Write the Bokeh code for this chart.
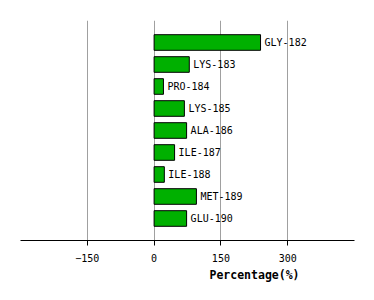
from bokeh.plotting import figure
from bokeh.models import Range1d, FixedTicker, ColumnDataSource, Title
from bokeh.core.properties import value
from bokeh.embed import file_html
from bokeh.resources import INLINE

residues = ["GLY-182", "LYS-183", "PRO-184", "LYS-185", "ALA-186",
            "ILE-187", "ILE-188", "MET-189", "GLU-190"]
percentages = [239, 79, 21, 68, 73, 46, 23, 95, 73]
ticks = [-150, 0, 150, 300]

pos = list(range(1, len(residues) + 1))
src = ColumnDataSource(dict(y=pos, right=percentages, label=residues))

p = figure(width=374, height=300, output_backend="svg", toolbar_location=None,
           x_range=Range1d(-300, 450), y_range=Range1d(len(residues) + 1, 0),
           y_axis_location=None, min_border_left=20, min_border_right=20,
           min_border_top=20, min_border_bottom=60)
p.outline_line_color = None
p.background_fill_color = "white"
p.border_fill_color = "white"

p.ygrid.visible = False
p.xgrid.ticker = FixedTicker(ticks=ticks)
p.xgrid.grid_line_color = "#a0a0a0"
p.xgrid.grid_line_width = 1

ax = p.xaxis[0]
ax.ticker = FixedTicker(ticks=ticks)
ax.minor_tick_line_color = None
ax.major_tick_in = 0
ax.major_tick_out = 5
ax.axis_line_color = "black"
ax.major_tick_line_color = "black"
ax.major_label_text_font = "DejaVu Sans Mono"
ax.major_label_text_font_size = "10px"
ax.major_label_text_color = "black"
ax.major_label_standoff = 8

p.hbar(y="y", left=0, right="right", height=0.71, source=src,
       fill_color="#00b000", line_color="black", line_width=1)
p.text(x="right", y="y", text="label", source=src, x_offset=4,
       text_baseline="middle", text_align="left",
       text_font=value("DejaVu Sans Mono"), text_font_size="10px",
       text_color="black")

t = Title(text="Percentage(%)", align="left", offset=189,
          text_font="DejaVu Sans Mono", text_font_size="11.5px",
          text_font_style="bold", text_color="black", standoff=2)
p.add_layout(t, "below")

open("out.html", "w").write(file_html(p, INLINE))
